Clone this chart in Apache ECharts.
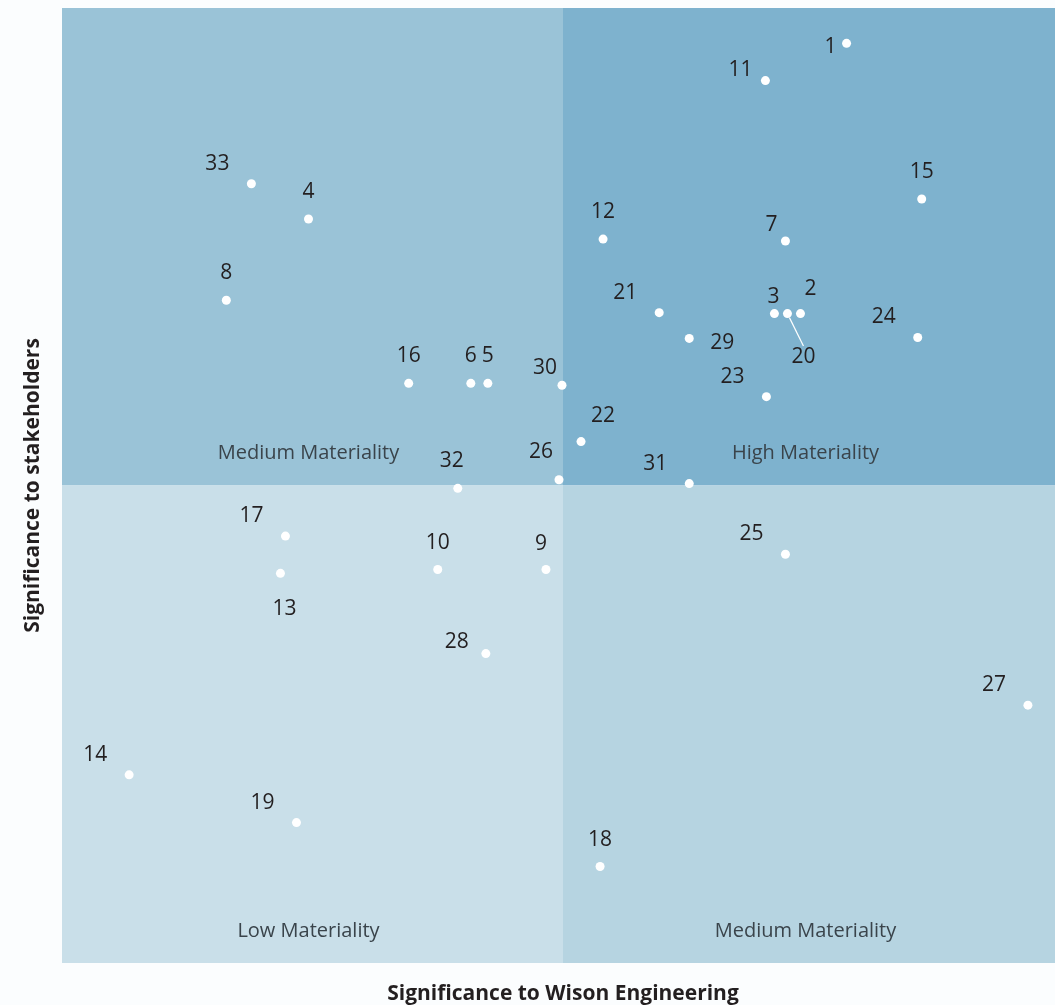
<!DOCTYPE html>
<html>
<head>
<meta charset="utf-8">
<script src="https://cdn.jsdelivr.net/npm/echarts@6/dist/echarts.min.js"></script>
<style>
  html, body { margin: 0; padding: 0; background: #fbfdfe; }
  #main { width: 1055px; height: 1005px; }
</style>
</head>
<body>
<div id="main"></div>
<script>
// topic codes and their position on the matrix (0-10 scale each way)
var codes = ['1','2','3','4','5','6','7','8','9','10','11','12','13','14','15','16','17',
             '18','19','20','21','22','23','24','25','26','27','28','29','30','31','32','33'];
var wisonScore = [7.83, 7.37, 7.11, 2.46, 4.25, 4.08, 7.22, 1.64, 4.83, 3.75, 7.02, 5.40, 2.18,
                  0.67, 8.58, 3.46, 2.23, 5.37, 2.34, 7.24, 5.96, 5.18, 7.03, 8.54, 7.22, 4.96,
                  9.64, 4.23, 6.26, 4.99, 6.26, 3.95, 1.89];
var stakeholderScore = [9.63, 6.80, 6.80, 7.79, 6.07, 6.07, 7.56, 6.94, 4.12, 4.12, 9.24, 7.58, 4.08,
                        1.97, 8.00, 6.07, 4.47, 1.01, 1.47, 6.80, 6.81, 5.46, 5.93, 6.55, 4.28, 5.06,
                        2.70, 3.24, 6.54, 6.05, 5.02, 4.97, 8.16];
var quadrantNames = ['Medium Materiality', 'High Materiality', 'Low Materiality', 'Medium Materiality'];
var quadrantX = [[0, 5], [5, 10], [0, 5], [5, 10]];
var quadrantY = [[5, 10], [5, 10], [0, 5], [0, 5]];
var quadrantColors = ['#9ac3d7', '#7eb2ce', '#c9dfe9', '#b6d4e1'];

// where each number sits relative to its dot (px)
var TL = [-34, -22], TOP = [0, -29];
var labelShift = [[-16, 2], [10, -27], [-1, -19], TOP, TOP, TOP, [-14, -18], TOP, [-5, -28], TOP,
                  [-25, -13], TOP, [4, 34], TL, TOP, TOP, TL, TOP, TL, [16, 41], TL, [22, -28], TL, TL,
                  TL, [-18, -30], TL, [-29, -14], [33, 3], [-17, -19], TL, [-6, -29], TL];

var points = codes.map(function (c, i) {
  var item = { name: c, value: [wisonScore[i], stakeholderScore[i]] };
  if (c === '20') {
    item.labelLine = { show: true, lineStyle: { color: '#ffffff', width: 1.2 } };
  }
  return item;
});

var chart = echarts.init(document.getElementById('main'), null, { renderer: 'canvas' });

var option = {
  backgroundColor: '#fbfdfe',
  animation: false,
  // the matrix runs a little past the right edge of the page
  grid: { left: 62, right: -9, top: 8, bottom: 42, outerBoundsMode: 'none', containLabel: false },
  xAxis: {
    type: 'value', min: 0, max: 10,
    name: 'Significance to Wison Engineering',
    nameLocation: 'middle', nameGap: 21,
    nameTextStyle: { fontFamily: 'Open Sans', fontWeight: 'bold', fontSize: 21, color: '#231f20' },
    axisLine: { show: false }, axisTick: { show: false }, axisLabel: { show: false },
    splitLine: { show: false }
  },
  yAxis: {
    type: 'value', min: 0, max: 10,
    name: 'Significance to stakeholders',
    nameLocation: 'middle', nameGap: 18,
    nameTextStyle: { fontFamily: 'Open Sans', fontWeight: 'bold', fontSize: 21, color: '#231f20' },
    axisLine: { show: false }, axisTick: { show: false }, axisLabel: { show: false },
    splitLine: { show: false }
  },
  series: [
    {
      type: 'scatter',
      symbol: 'circle',
      symbolSize: 9,
      itemStyle: { color: '#ffffff', opacity: 1 },
      label: {
        show: true,
        position: 'inside',
        formatter: '{b}',
        fontFamily: 'Open Sans',
        fontSize: 21,
        color: '#231f20'
      },
      labelLayout: function (p) {
        var s = labelShift[p.dataIndex];
        return { dx: s[0], dy: s[1] + 2 };
      },
      emphasis: { disabled: true },
      markArea: {
        silent: true,
        label: {
          show: true,
          position: 'insideBottom',
          distance: 22,
          fontFamily: 'Open Sans',
          fontSize: 20,
          color: '#3a444b'
        },
        data: quadrantNames.map(function (n, i) {
          var right = quadrantX[i][0] >= 5;
          return [
            {
              name: n, xAxis: quadrantX[i][0], yAxis: quadrantY[i][0],
              itemStyle: { color: quadrantColors[i], opacity: 1 },
              label: { offset: [right ? -8 : -4, 0] }
            },
            { xAxis: quadrantX[i][1], yAxis: quadrantY[i][1] }
          ];
        })
      },
      data: points
    }
  ]
};

chart.setOption(option);
window.addEventListener('resize', chart.resize);
</script>
</body>
</html>
